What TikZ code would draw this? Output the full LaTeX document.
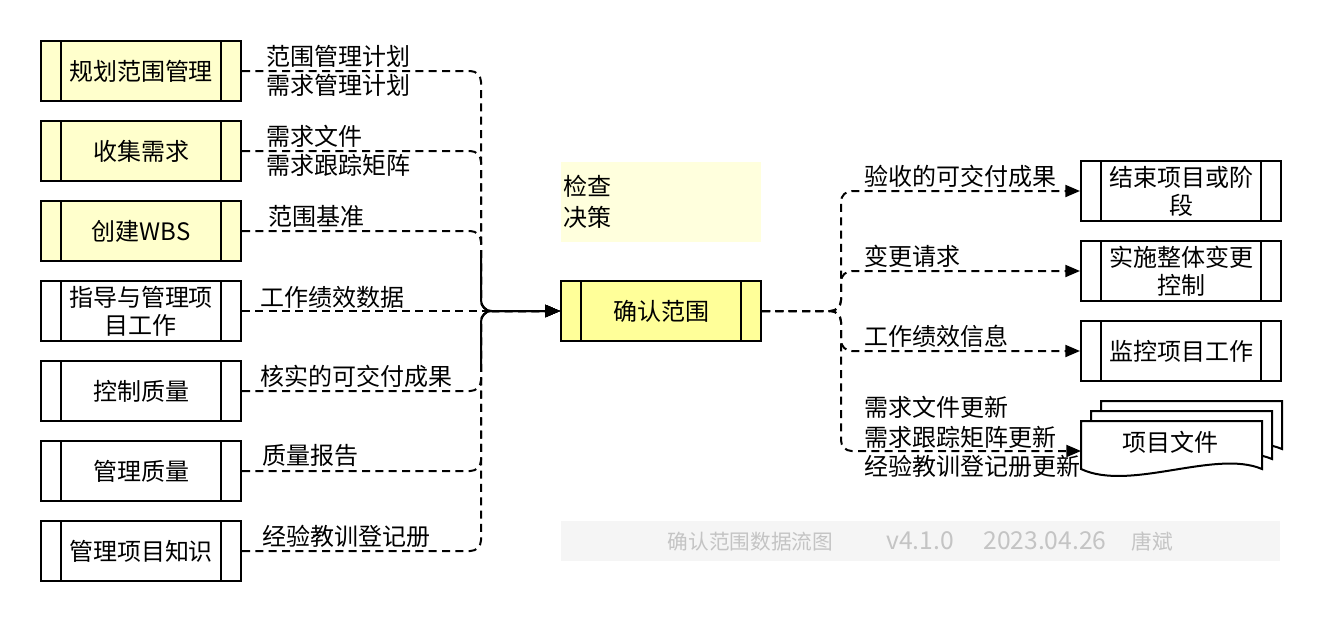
\documentclass[tikz,border=0pt]{standalone}
\usepackage{fontspec}
\setmainfont{Noto Sans CJK SC}
\usetikzlibrary{arrows.meta}
\definecolor{lightyel}{HTML}{FFFFCC}
\definecolor{midyel}{HTML}{FFFF99}
\definecolor{noteyel}{HTML}{FFFFDD}
\definecolor{footbg}{HTML}{F5F5F5}
\definecolor{foottx}{HTML}{C4C4C4}
\newcommand\mydocpage[2]{%
  \draw[line width=1.5pt, fill=white, shift={(#1,#2)}]
    (1081,421) -- (1262,421) -- (1262,469)
    .. controls (1215,449) and (1130,492) .. (1081,469) -- cycle;}
\newcommand\biglat[1]{{\fontsize{18.5}{18}\selectfont #1}}
\begin{document}
\begin{tikzpicture}[x=0.75pt,y=-0.75pt,
  proc/.style={draw, line width=1.5pt, minimum width=150pt, minimum height=45pt,
    inner sep=0pt, align=center, font=\fontsize{18}{21}\selectfont,
    path picture={
      \draw[line width=1.5pt] ([xshift=15pt]path picture bounding box.north west) -- ([xshift=15pt]path picture bounding box.south west);
      \draw[line width=1.5pt] ([xshift=-15pt]path picture bounding box.north east) -- ([xshift=-15pt]path picture bounding box.south east);}},
  lbl/.style={anchor=west, inner sep=0pt, align=left, font=\fontsize{18}{22}\selectfont},
  dedge/.style={line width=1.5pt, dash pattern=on 6pt off 4pt, rounded corners=8pt},
  sedge/.style={line width=1.5pt, rounded corners=8pt},
  arr/.style={-{Triangle[length=11pt,width=9pt]}},
]
\useasboundingbox (0,0) rectangle (1322,622);

% left process boxes
\node[proc, fill=lightyel] (b1) at (141,71) {规划范围管理};
\node[proc, fill=lightyel] (b2) at (141,151) {收集需求};
\node[proc, fill=lightyel] (b3) at (141,231) {创建WBS};
\node[proc, fill=white] (b4) at (141,311) {指导与管理项\\目工作};
\node[proc, fill=white] (b5) at (141,391) {控制质量};
\node[proc, fill=white] (b6) at (141,471) {管理质量};
\node[proc, fill=white] (b7) at (141,551) {管理项目知识};

% center
\node[proc, fill=midyel] (c) at (661,311) {确认范围};
\node[fill=noteyel, minimum width=150pt, minimum height=60pt, text width=147pt,
      inner xsep=1.5pt, align=left, font=\fontsize{18}{23}\selectfont] (note) at (661,202) {检查\\决策};

% right boxes
\node[proc, fill=white] (r1) at (1181,191) {结束项目或阶\\段};
\node[proc, fill=white] (r2) at (1181,271) {实施整体变更\\控制};
\node[proc, fill=white] (r3) at (1181,351) {监控项目工作};

% multi document
\mydocpage{20}{-20}
\mydocpage{10}{-10}
\mydocpage{0}{0}
\node[font=\fontsize{18}{21}\selectfont, inner sep=0pt] (doc) at (1170,442) {项目文件};
\coordinate (docin) at (1081,451);

% junction coordinates
\coordinate (jl) at (481,311);
\coordinate (jr) at (841,311);

% left edges
\draw[dedge,arr] (b1.east) -- (481,71) -- (jl) -- (c.west);
\draw[dedge,arr] (b2.east) -- (481,151) -- (jl) -- (c.west);
\draw[dedge] (b3.east) -- (481,231) -- (481,251);
\draw[sedge,arr] (481,251) -- (jl) -- (c.west);
\draw[dedge,arr] (b4.east) -- (c.west);
\draw[dedge] (b5.east) -- (481,391) -- (481,371);
\draw[sedge,arr] (481,371) -- (jl) -- (c.west);
\draw[dedge,arr] (b6.east) -- (481,471) -- (jl) -- (c.west);
\draw[dedge,arr] (b7.east) -- (481,551) -- (jl) -- (c.west);

% right edges
\draw[dedge,arr] (c.east) -- (jr) -- (841,191) -- (r1.west);
\draw[dedge,arr] (c.east) -- (jr) -- (841,271) -- (r2.west);
\draw[dedge,arr] (c.east) -- (jr) -- (841,351) -- (r3.west);
\draw[dedge,arr] (c.east) -- (jr) -- (841,451) -- (docin);

% left labels
\node[lbl] (l1) at (266,71) {范围管理计划\\需求管理计划};
\node[lbl] (l2) at (266,151) {需求文件\\需求跟踪矩阵};
\node[lbl] (l3) at (268,216) {范围基准};
\node[lbl] (l4) at (260,297) {工作绩效数据};
\node[lbl] (l5) at (260,376) {核实的可交付成果};
\node[lbl] (l6) at (262,455) {质量报告};
\node[lbl] (l7) at (262,536) {经验教训登记册};

% right labels
\node[lbl] (m1) at (864,176) {验收的可交付成果};
\node[lbl] (m2) at (864,256) {变更请求};
\node[lbl] (m3) at (864,336) {工作绩效信息};
\node[lbl] (m4) at (864,437) {需求文件更新\\需求跟踪矩阵更新\\经验教训登记册更新};

% footer
\node[fill=footbg, minimum width=539.25pt, minimum height=30pt, inner sep=0pt,
      text=foottx, font=\fontsize{15.5}{18}\selectfont] (foot) at (920.5,541)
  {确认范围数据流图\hspace{40pt}\biglat{v4.1.0}\hspace{22pt}\biglat{2023.04.26}\hspace{19pt}唐斌};
\end{tikzpicture}
\end{document}
